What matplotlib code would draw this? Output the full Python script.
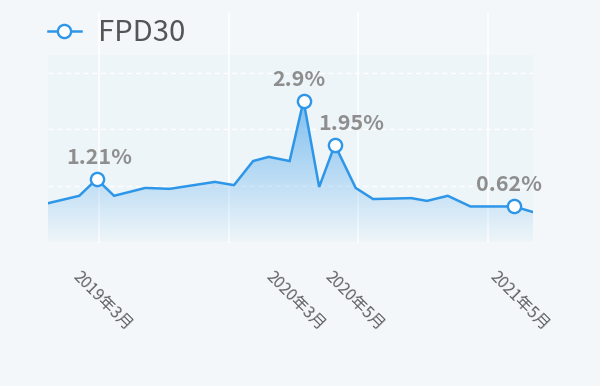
import numpy as np
import matplotlib
matplotlib.use("Agg")
import matplotlib.pyplot as plt
from matplotlib.colors import LinearSegmentedColormap
from matplotlib.lines import Line2D

plt.rcParams["font.family"] = ["Noto Sans CJK SC", "DejaVu Sans"]

# period position (months from first point) and FPD30 rate (%)
period = [0.0, 1.8, 2.8, 3.8, 5.6, 7.0, 9.6, 10.7, 11.8, 12.7, 13.9,
          14.7, 15.6, 16.5, 17.7, 18.7, 20.9, 21.8, 23.0, 24.3, 26.8, 27.9]
fpd30 = [0.69, 0.85, 1.21, 0.85, 1.02, 1.00, 1.15, 1.08, 1.60, 1.69, 1.60,
         2.90, 1.04, 1.95, 1.02, 0.78, 0.80, 0.74, 0.85, 0.62, 0.62, 0.50]
highlight_idx = [2, 11, 13, 20]
highlight_text = ["1.21%", "2.9%", "1.95%", "0.62%"]
tick_pos = [3.1, 14.2, 17.6, 27.1]
tick_labels = ["2019年3月", "2020年3月", "2020年5月", "2021年5月"]
series_name = "FPD30"

BLUE = "#2e96e8"
GRID_X = [2.94, 10.43, 17.86, 25.29]
Y_LO, Y_HI = -0.147, 3.887

fig = plt.figure(figsize=(6.0, 3.86), dpi=100, facecolor="#f3f7fa")
ax = fig.add_axes([0.08, 0.373, 0.8083, 0.4845])
ax.set_facecolor("#eef5f9")
ax.set_xlim(period[0], period[-1])
ax.set_ylim(Y_LO, Y_HI)
for s in ax.spines.values():
    s.set_visible(False)

# grid: dashed horizontal, solid vertical
for yv in np.linspace(Y_LO, 3.498, 4):
    ax.axhline(yv, color="white", lw=0.9, ls=(0, (4, 3)), zorder=1)
for xv in GRID_X:
    ax.axvline(xv, ymin=0, ymax=1.225, color="white", lw=1.1, zorder=1,
               clip_on=False)

# gradient area
poly = ax.fill_between(period, fpd30, Y_LO, color="none", lw=0)
cmap = LinearSegmentedColormap.from_list(
    "area", [(0.18, 0.59, 0.91, 0.0), (0.18, 0.59, 0.91, 0.58)])
grad = np.linspace(0, 1, 256).reshape(-1, 1)
im = ax.imshow(grad, cmap=cmap, aspect="auto", origin="lower",
               extent=[period[0], period[-1], Y_LO, max(fpd30)], zorder=2)
im.set_clip_path(poly.get_paths()[0], transform=ax.transData)
ax.set_ylim(Y_LO, Y_HI)

ax.plot(period, fpd30, color=BLUE, lw=1.8, zorder=3, solid_joinstyle="miter")
hx = [period[i] for i in highlight_idx]
hy = [fpd30[i] for i in highlight_idx]
ax.plot(hx, hy, "o", ms=9.5, mfc="white", mec=BLUE, mew=1.7, zorder=4,
        clip_on=False)

dx = [1.5, -3.6, 12, -3.6]
for x, y, t, d in zip(hx, hy, highlight_text, dx):
    ax.annotate(t, (x, y), xytext=(d, 8), textcoords="offset points",
                ha="center", va="bottom", fontsize=15.5, fontweight="bold",
                color="#8e8e8e", zorder=5)

ax.set_yticks([])
ax.set_xticks(tick_pos, tick_labels, rotation=-45, ha="center",
              fontsize=11.5, color="#606060")
ax.tick_params(axis="x", length=0, pad=19)

handle = Line2D([], [], color=BLUE, lw=1.8, marker="o", ms=9.5, mfc="white",
                mec=BLUE, mew=1.7)
fig.legend([handle], [series_name], loc="center left",
           bbox_to_anchor=(0.037, 0.915), frameon=False, fontsize=21,
           handlelength=1.1, handletextpad=0.6, labelcolor="#555555")

fig.savefig("out.png", dpi=100, facecolor=fig.get_facecolor())
